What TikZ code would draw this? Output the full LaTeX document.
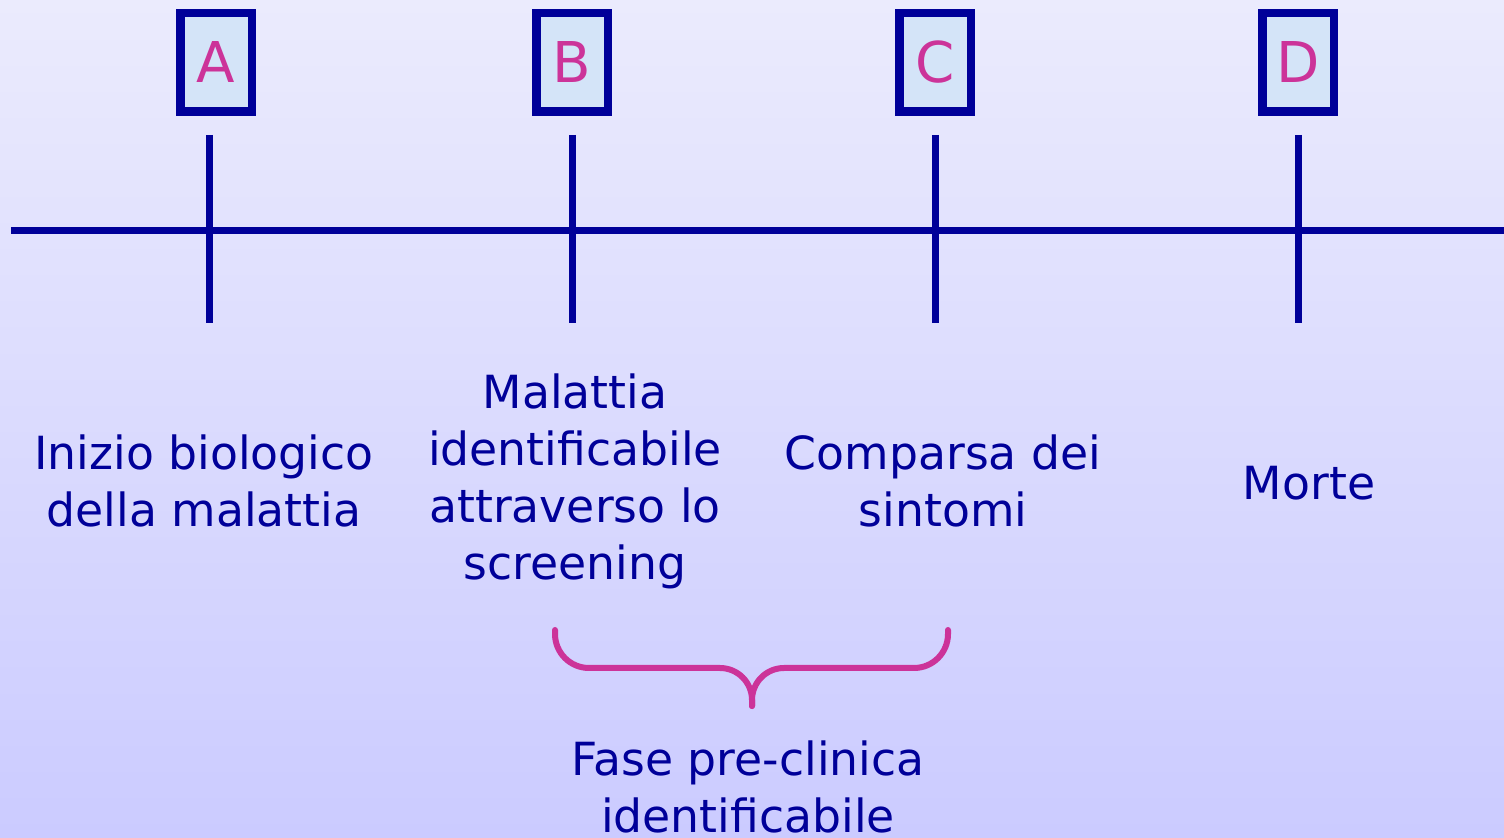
\documentclass[tikz,border=0pt]{standalone}
\usepackage{fontspec}
\setmainfont{DejaVu Sans}
\usepackage{tikz}
\usetikzlibrary{positioning}
\usepackage{xcolor}
\definecolor{navy}{RGB}{0,0,153}
\definecolor{rosa}{RGB}{204,51,153}
\definecolor{bgtop}{RGB}{235,235,253}
\definecolor{bgbot}{RGB}{203,203,255}
\definecolor{boxfill}{RGB}{212,228,248}

\begin{document}
\begin{tikzpicture}[
    letter/.style={draw=navy, line width=0.085cm, fill=boxfill, minimum width=0.715cm, minimum height=0.985cm, inner sep=0pt, text=rosa, font=\fontsize{16}{18}\selectfont},
    label/.style={align=center, text=navy, inner sep=0pt, font=\fontsize{13}{16.2}\selectfont},
    axis/.style={navy, line width=0.07cm},
    brace/.style={rosa, line width=0.06cm, line cap=round}
  ]
  \useasboundingbox (0,0) rectangle (15.04,8.37);
  \shade[top color=bgtop, bottom color=bgbot] (0,0) rectangle (15.04,8.37);
  % letter boxes
  \node[letter] (boxA) at (2.16,7.745) {A};
  \node[letter] (boxB) at (5.72,7.745) {B};
  \node[letter] (boxC) at (9.35,7.745) {C};
  \node[letter] (boxD) at (12.98,7.745) {D};
  % timeline
  \coordinate (start) at (0.11,6.06);
  \coordinate (end) at (15.04,6.06);
  \draw[axis] (start) -- (end);
  \coordinate (tickA top) at (2.09,7.02);
  \coordinate (tickA bot) at (2.09,5.14);
  \coordinate (tickB top) at (5.72,7.02);
  \coordinate (tickB bot) at (5.72,5.14);
  \coordinate (tickC top) at (9.35,7.02);
  \coordinate (tickC bot) at (9.35,5.14);
  \coordinate (tickD top) at (12.98,7.02);
  \coordinate (tickD bot) at (12.98,5.14);
  \draw[axis] (tickA top) -- (tickA bot);
  \draw[axis] (tickB top) -- (tickB bot);
  \draw[axis] (tickC top) -- (tickC bot);
  \draw[axis] (tickD top) -- (tickD bot);
  % labels
  \node[label] (inizio) at (2.04,3.56) {Inizio biologico\\della malattia};
  \node[label] (malattia) at (5.75,3.56) {Malattia\\identificabile\\attraverso lo\\screening};
  \node[label] (sintomi) at (9.43,3.56) {Comparsa dei\\sintomi};
  \node[label] (morte) at (13.09,3.54) {Morte};
  % brace
  \draw[brace] (5.55,2.07) -- (5.55,2.03) arc[start angle=180, end angle=270, radius=0.34]
    -- (7.20,1.69) arc[start angle=90, end angle=0, radius=0.32] -- (7.52,1.31);
  \draw[brace] (9.48,2.07) -- (9.48,2.03) arc[start angle=0, end angle=-90, radius=0.34]
    -- (7.84,1.69) arc[start angle=90, end angle=180, radius=0.32] -- (7.52,1.31);
  \node[label] (fase) at (7.48,0.50) {Fase pre-clinica\\identificabile};
\end{tikzpicture}
\end{document}
